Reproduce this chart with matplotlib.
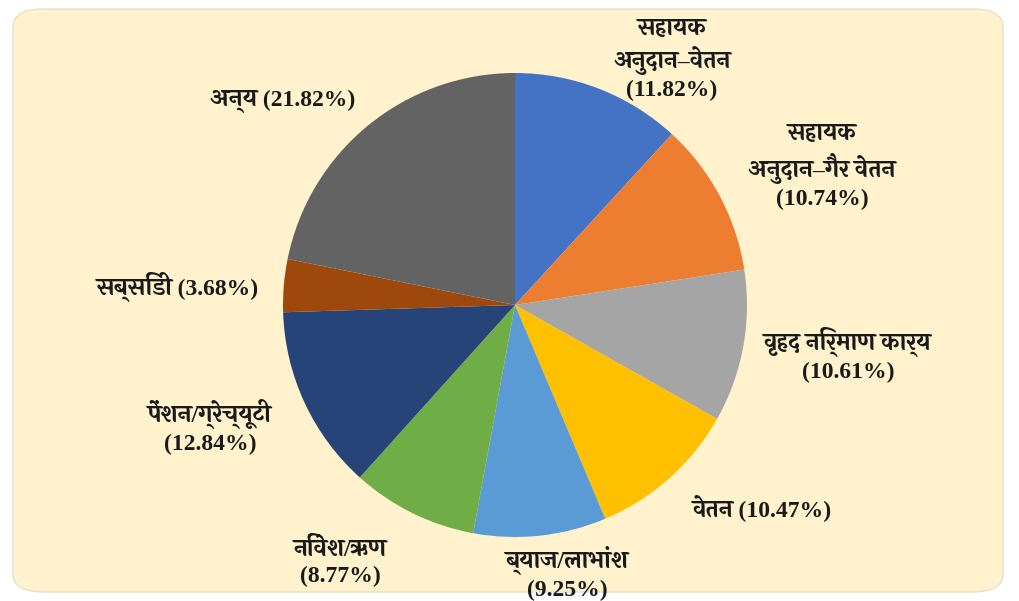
import matplotlib
matplotlib.use("Agg")
import matplotlib.pyplot as plt
from matplotlib.patches import FancyBboxPatch

# expenditure shares, clockwise from 12 o'clock
categories = [
    "सहायक\nअनुदान–वेतन",
    "सहायक\nअनुदान–गैर वेतन",
    "वृहद निर्माण कार्य",
    "वेतन",
    "ब्याज/लाभांश",
    "निवेश/ऋण",
    "पेंशन/ग्रेच्यूटी",
    "सब्सिडी",
    "अन्य",
]
shares = [11.82, 10.74, 10.61, 10.47, 9.25, 8.77, 12.84, 3.68, 21.82]
colors = ["#4472C4", "#ED7D31", "#A5A5A5", "#FFC000", "#5B9BD5",
          "#70AD47", "#264478", "#9E480E", "#636363"]

# label centres in pixels (x, y from top) and whether the % goes on its own line
label_pos = [(672, 60), (822, 167), (848, 355), (762, 508), (567, 573),
             (340, 563), (210, 427), (178, 287), (283, 101)]
own_line = [True, True, True, False, True, True, True, False, False]

W, H = 1020, 601
plt.rcParams["font.family"] = ["Liberation Serif", "Laila"]

fig = plt.figure(figsize=(W / 100, H / 100), dpi=100)
fig.patch.set_facecolor("white")

bg = FancyBboxPatch((13 / W, 9 / H), (1003 - 13) / W, (592 - 9) / H,
                    boxstyle="round,pad=0,rounding_size=0.03",
                    transform=fig.transFigure, facecolor="#FFF2CC",
                    edgecolor="#E6DFCB", linewidth=1.0, zorder=-1)
fig.patches.append(bg)

cx, cy, r = 515, 305, 232
ax = fig.add_axes([(cx - r) / W, (H - cy - r) / H, 2 * r / W, 2 * r / H])
ax.set_zorder(2)
ax.patch.set_visible(False)
ax.pie(shares, colors=colors, startangle=90, counterclock=False,
       wedgeprops=dict(linewidth=0))
ax.set_xlim(-1, 1)
ax.set_ylim(-1, 1)
ax.set_aspect("equal")
ax.axis("off")

for name, v, (x, y), nl in zip(categories, shares, label_pos, own_line):
    txt = f"{name}\n({v:.2f}%)" if nl else f"{name} ({v:.2f}%)"
    fig.text(x / W, 1 - y / H, txt, ha="center", va="center",
             fontsize=17, fontweight="bold", color="#1a1a1a",
             linespacing=1.3, zorder=3)

fig.savefig("out.png", dpi=100)
